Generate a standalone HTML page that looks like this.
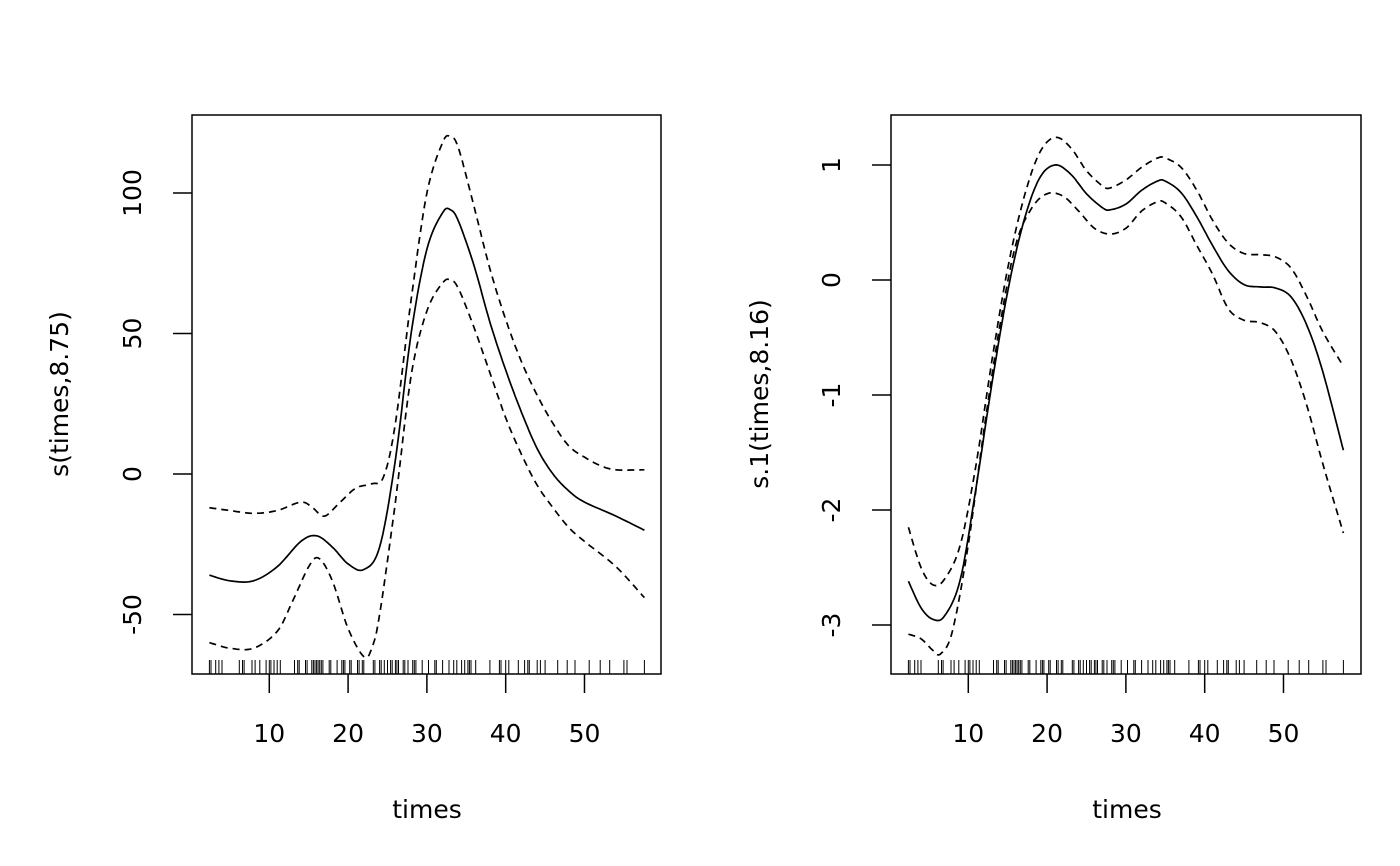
<!DOCTYPE html>
<html><head><meta charset="utf-8"><style>
html,body{margin:0;padding:0;background:#fff}
svg{display:block}
text{font-family:"DejaVu Sans","Liberation Sans",sans-serif;font-size:25px;fill:#000}
</style></head><body>
<svg id="s" width="1400" height="866" xmlns="http://www.w3.org/2000/svg">
<g fill="none" stroke="#000" stroke-width="1.5">
<rect x="192" y="115" width="469" height="559"/>
<rect x="891" y="115" width="470" height="559"/>
</g>
<g id="g"></g>
<text x="427" y="818" text-anchor="middle">times</text>
<text x="1127" y="818" text-anchor="middle">times</text>
<text transform="translate(68,394) rotate(-90)" text-anchor="middle">s(times,8.75)</text>
<text transform="translate(768,394) rotate(-90)" text-anchor="middle">s.1(times,8.16)</text>
</svg>
<script>
const NS="http://www.w3.org/2000/svg",g=document.getElementById('g');
function el(t,a,txt){const e=document.createElementNS(NS,t);for(const k in a)e.setAttribute(k,a[k]);if(txt!==undefined)e.textContent=txt;g.appendChild(e);return e;}
const times=[2.4,2.6,3.2,3.6,4.0,6.2,6.6,6.8,7.8,8.2,8.8,9.6,10.0,10.2,10.6,11.0,11.4,13.2,13.6,13.8,14.6,14.8,15.4,15.6,15.8,16.0,16.2,16.4,16.6,16.8,17.6,17.8,18.6,19.2,19.4,19.6,20.2,20.4,21.2,21.4,21.8,22.0,23.2,23.4,24.0,24.2,24.6,25.0,25.4,25.6,26.0,26.2,26.4,27.0,27.2,27.6,28.2,28.4,28.6,29.4,30.2,31.0,31.2,32.0,32.8,33.4,33.8,34.4,34.8,35.2,35.4,35.6,36.2,38.0,39.2,39.4,40.0,40.4,41.6,42.4,42.8,43.0,44.0,44.4,45.0,46.6,47.8,48.8,50.6,52.0,53.2,55.0,55.4,57.6];
function cr(pts,X,Y){
 let d='';const n=pts.length;
 for(let i=0;i<n-1;i++){const p0=pts[Math.max(0,i-1)],p1=pts[i],p2=pts[i+1],p3=pts[Math.min(n-1,i+2)];
  for(let s=0;s<=10;s++){if(i>0&&s==0)continue;const t=s/10,t2=t*t,t3=t2*t;
   const f=(a,b,c,e)=>0.5*((2*b)+(-a+c)*t+(2*a-5*b+4*c-e)*t2+(-a+3*b-3*c+e)*t3);
   const x=f(p0[0],p1[0],p2[0],p3[0]),y=f(p0[1],p1[1],p2[1],p3[1]);
   d+=(d?'L':'M')+X(x).toFixed(1)+','+Y(y).toFixed(1);}}
 return d;}
function panel(L,ticksY,Y,labx,mean,up,lo){
 const X=v=>L+(v-0.192)*7.88;
 el('path',{d:cr(mean,X,Y),fill:'none',stroke:'#000','stroke-width':1.7});
 el('path',{d:cr(up,X,Y),fill:'none',stroke:'#000','stroke-width':1.7,'stroke-dasharray':'7,5'});
 el('path',{d:cr(lo,X,Y),fill:'none',stroke:'#000','stroke-width':1.7,'stroke-dasharray':'7,5'});
 let r='';times.forEach(t=>{r+='M'+X(t).toFixed(1)+',660V674';});
 el('path',{d:r,stroke:'#000','stroke-width':1,fill:'none'});
 [10,20,30,40,50].forEach(v=>{el('line',{x1:X(v),x2:X(v),y1:674,y2:693,stroke:'#000','stroke-width':1.5});
  el('text',{x:X(v),y:742,'text-anchor':'middle'},String(v));});
 ticksY.forEach(v=>{const y=Y(v);el('line',{x1:L-19,x2:L,y1:y,y2:y,stroke:'#000','stroke-width':1.5});
  el('text',{transform:`translate(${labx},${y}) rotate(-90)`,'text-anchor':'middle'},String(v));});
}
const Y1=v=>474-2.81*v;
panel(192,[-50,0,50,100],Y1,141,
[[2.4,-36],[5,-38],[8,-38],[11,-33],[14,-24],[16,-22],[18,-26],[20,-32],[22,-34],[24,-26],[26,5],[28,50],[30,80],[32,93],[33,94],[34,90],[36,74],[38,54],[40,37],[42,22],[44,9],[46,0],[48,-6],[50,-10],[54,-15],[57.6,-20]],
[[2.4,-12],[5,-13],[8,-14],[11,-13],[14,-10],[15.5,-12],[17,-15],[19,-10],[21,-5],[23,-3.5],[24.5,-1],[26,18],[28,62],[30,100],[32,118],[33,120],[34,116],[36,95],[38,73],[40,55],[42,40],[44,28],[46,18],[48,10],[50,6],[52,3],[54,1.5],[57.6,1.5]],
[[2.4,-60],[5,-62],[8,-62],[11,-56],[13,-45],[15,-33],[16.3,-30],[18,-38],[20,-55],[22,-65],[23,-62],[24,-50],[26,-10],[28,35],[30,58],[32,68],[33,69],[34,66],[36,52],[38,36],[40,20],[42,7],[44,-4],[46,-12],[48,-19],[50,-24],[54,-33],[57.6,-44]]);
const Y2=v=>280-115*v;
panel(891,[-3,-2,-1,0,1],Y2,840,
[[2.4,-2.62],[4,-2.85],[5.5,-2.95],[7,-2.92],[9,-2.6],[11,-1.8],[13,-0.9],[15,-0.1],[17,0.5],[19,0.88],[21,1.0],[23,0.92],[25,0.75],[27,0.63],[28,0.61],[30,0.66],[32,0.78],[34,0.86],[35,0.86],[37,0.76],[39,0.55],[41,0.3],[43,0.08],[45,-0.04],[47,-0.06],[49,-0.07],[51,-0.15],[53,-0.4],[55,-0.8],[57.6,-1.48]],
[[2.4,-2.15],[4,-2.5],[5.5,-2.65],[7,-2.6],[9,-2.3],[11,-1.6],[13,-0.7],[15,0.1],[17,0.7],[19,1.1],[21,1.24],[23,1.15],[25,0.95],[27,0.82],[28,0.8],[30,0.87],[32,0.98],[34,1.06],[35,1.06],[37,0.98],[39,0.78],[41,0.52],[43,0.32],[45,0.23],[47,0.22],[49,0.2],[51,0.1],[53,-0.15],[55,-0.45],[57.6,-0.75]],
[[2.4,-3.08],[4,-3.12],[5.5,-3.22],[6.5,-3.25],[8,-3.05],[10,-2.3],[12,-1.3],[14,-0.4],[16,0.3],[18,0.62],[20,0.75],[22,0.73],[24,0.6],[26,0.45],[28,0.4],[30,0.45],[32,0.6],[34,0.68],[35,0.67],[37,0.55],[39,0.3],[41,0.05],[43,-0.25],[45,-0.35],[47,-0.37],[49,-0.45],[51,-0.7],[53,-1.1],[55,-1.6],[57.6,-2.2]]);
</script>
</body></html>
